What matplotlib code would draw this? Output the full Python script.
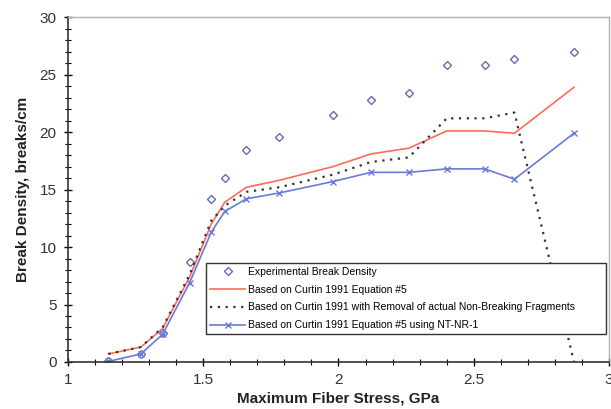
#! /usr/bin/env python3
"""Break density vs. maximum fiber stress, experiment against Curtin 1991 models."""
import matplotlib

matplotlib.use("Agg")
import matplotlib.pyplot as plt
from matplotlib.ticker import MultipleLocator

plt.rcParams["font.family"] = ["Liberation Sans", "DejaVu Sans"]

stress = [1.15, 1.27, 1.35, 1.45, 1.53, 1.58, 1.66, 1.78, 1.98, 2.12, 2.26, 2.40, 2.54, 2.65, 2.87]
experimental = [0.1, 0.7, 2.5, 8.7, 14.2, 16.0, 18.4, 19.6, 21.5, 22.8, 23.4, 25.8, 25.8, 26.4, 27.0]
curtin_eq5 = [0.7, 1.3, 2.9, 7.4, 12.0, 13.9, 15.2, 15.8, 17.0, 18.1, 18.6, 20.1, 20.1, 19.9, 23.9]
curtin_removal = [0.7, 1.3, 3.0, 7.6, 12.3, 13.6, 14.8, 15.2, 16.3, 17.4, 17.8, 21.2, 21.2, 21.7, 0.0]
curtin_ntnr1 = [0.05, 0.7, 2.4, 6.9, 11.3, 13.1, 14.2, 14.7, 15.7, 16.5, 16.5, 16.8, 16.8, 15.9, 19.9]

fig = plt.figure(figsize=(6.11, 4.09), dpi=100)
ax = fig.add_axes([0.111, 0.115, 0.886, 0.843])

ax.plot(stress, experimental, linestyle="none", marker="D", markersize=4.2,
        markerfacecolor="none", markeredgecolor="#6a6ab8", markeredgewidth=1.0,
        label="Experimental Break Density")
ax.plot(stress, curtin_eq5, color="#ff6a5a", lw=1.2,
        label="Based on Curtin 1991 Equation #5")
ax.plot(stress, curtin_removal, color="#333333", lw=1.6, linestyle=(0, (1, 2.5)),
        label="Based on Curtin 1991 with Removal of actual Non-Breaking Fragments")
ax.plot(stress, curtin_ntnr1, color="#6a7ad8", lw=1.2, marker="x", markersize=4,
        label="Based on Curtin 1991 Equation #5 using NT-NR-1")

ax.set_xlim(1, 3)
ax.set_ylim(0, 30)
ax.xaxis.set_major_locator(MultipleLocator(0.5))
ax.xaxis.set_minor_locator(MultipleLocator(0.1))
ax.yaxis.set_major_locator(MultipleLocator(5))
ax.yaxis.set_minor_locator(MultipleLocator(1))
ax.xaxis.set_major_formatter(lambda v, p: "%g" % v)
ax.tick_params(which="major", direction="inout", length=6, width=1, labelsize=11,
               labelcolor="#333333", pad=5)
ax.tick_params(which="minor", direction="inout", length=4, width=0.8)
for side in ("left", "bottom"):
    ax.spines[side].set_color("#333333")
    ax.spines[side].set_linewidth(1.2)
for side in ("top", "right"):
    ax.spines[side].set_color("#b0b0b0")
    ax.spines[side].set_linewidth(1.0)

ax.set_xlabel("Maximum Fiber Stress, GPa", fontsize=11, fontweight="bold",
              color="#222222", labelpad=3)
ax.set_ylabel("Break Density, breaks/cm", fontsize=11, fontweight="bold",
              color="#222222", labelpad=7)

leg = ax.legend(loc="lower left", bbox_to_anchor=(0.255, 0.08, 0.74, 0.2),
                mode="expand", fontsize=7.5, frameon=True, fancybox=False,
                framealpha=1, borderaxespad=0, handlelength=3.4,
                handletextpad=0.2, labelspacing=0.75, borderpad=0.4)
leg.get_frame().set_edgecolor("#333333")
leg.get_frame().set_linewidth(1.0)

fig.savefig("out.png", dpi=100)
